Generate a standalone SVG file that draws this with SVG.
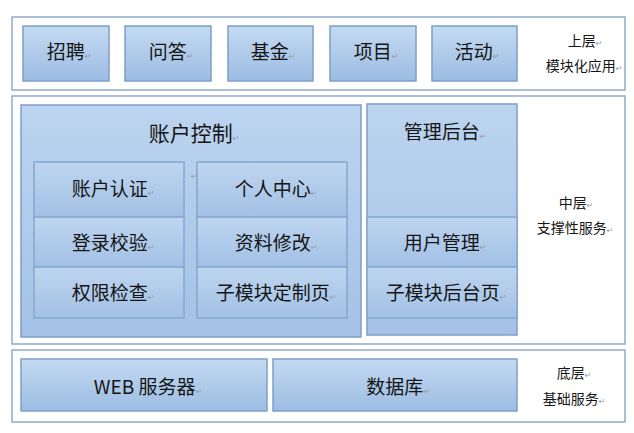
<svg xmlns="http://www.w3.org/2000/svg" width="634" height="433" viewBox="0 0 634 433">
<defs>
<linearGradient id="gb" x1="0" y1="0" x2="0" y2="1">
<stop offset="0" stop-color="#c4daf2"/>
<stop offset="1" stop-color="#9cbce2"/>
</linearGradient>
<linearGradient id="gp" x1="0" y1="0" x2="0" y2="1">
<stop offset="0" stop-color="#bcd4ef"/>
<stop offset="1" stop-color="#a4c2e6"/>
</linearGradient>
<linearGradient id="gs" x1="0" y1="0" x2="0" y2="1">
<stop offset="0" stop-color="#bed5ef"/>
<stop offset="1" stop-color="#a2c1e5"/>
</linearGradient>
</defs>
<style>
.layer{fill:#ffffff;stroke:#8eabcd;stroke-width:1.5}
.box{fill:url(#gb);stroke:#7f9fc8;stroke-width:1.5}
.panel{fill:url(#gp);stroke:#7f9fc8;stroke-width:1.5}
.sub{fill:url(#gs);stroke:#86a7cf;stroke-width:1.5}
.lbl{font-family:"Noto Sans CJK SC","Noto Sans",sans-serif;font-size:19px;fill:#151515;text-anchor:middle}
.side{font-family:"Noto Sans CJK SC","Noto Sans",sans-serif;font-size:14px;fill:#151515;text-anchor:middle}
.rm{font-family:"DejaVu Sans",sans-serif;font-size:8px;fill:#9a9a9a}
</style>
<rect width="634" height="433" fill="#ffffff"/>
<g id="layer-top">
<rect class="layer" x="12" y="17" width="613" height="73"/>
<text class="side" x="585" y="46">上层<tspan class="rm">↵</tspan></text>
<text class="side" x="584" y="71">模块化应用<tspan class="rm">↵</tspan></text>
</g>
<g id="n-zhaopin"><rect class="box" x="23" y="26" width="86" height="55"/><text class="lbl" x="69" y="59">招聘<tspan class="rm">↵</tspan></text></g>
<g id="n-wenda"><rect class="box" x="125" y="26" width="86" height="55"/><text class="lbl" x="171" y="59">问答<tspan class="rm">↵</tspan></text></g>
<g id="n-jijin"><rect class="box" x="228" y="26" width="85" height="55"/><text class="lbl" x="273" y="59">基金<tspan class="rm">↵</tspan></text></g>
<g id="n-xiangmu"><rect class="box" x="330" y="26" width="86" height="55"/><text class="lbl" x="376" y="59">项目<tspan class="rm">↵</tspan></text></g>
<g id="n-huodong"><rect class="box" x="432" y="26" width="85" height="55"/><text class="lbl" x="477" y="59">活动<tspan class="rm">↵</tspan></text></g>
<g id="layer-mid">
<rect class="layer" x="12" y="96" width="613" height="248"/>
<text class="side" x="576" y="208">中层<tspan class="rm">↵</tspan></text>
<text class="side" x="575" y="233">支撑性服务<tspan class="rm">↵</tspan></text>
</g>
<g id="n-account">
<rect class="panel" x="21" y="105" width="340" height="232"/>
<text class="lbl" x="194" y="141" style="font-size:21px">账户控制<tspan class="rm">↵</tspan></text>
<text class="rm" x="191" y="179">↵</text>
</g>
<g id="n-auth"><rect class="sub" x="34" y="162" width="150" height="55"/><text class="lbl" x="113" y="196">账户认证<tspan class="rm">↵</tspan></text></g>
<g id="n-login"><rect class="sub" x="34" y="217" width="150" height="50"/><text class="lbl" x="113" y="250">登录校验<tspan class="rm">↵</tspan></text></g>
<g id="n-perm"><rect class="sub" x="34" y="267" width="150" height="51"/><text class="lbl" x="113" y="300">权限检查<tspan class="rm">↵</tspan></text></g>
<g id="n-personal"><rect class="sub" x="197" y="162" width="150" height="55"/><text class="lbl" x="276" y="196">个人中心<tspan class="rm">↵</tspan></text></g>
<g id="n-profile"><rect class="sub" x="197" y="217" width="150" height="50"/><text class="lbl" x="276" y="250">资料修改<tspan class="rm">↵</tspan></text></g>
<g id="n-custom"><rect class="sub" x="197" y="267" width="150" height="51"/><text class="lbl" x="276" y="300">子模块定制页<tspan class="rm">↵</tspan></text></g>
<g id="n-admin">
<rect class="panel" x="367" y="104" width="150" height="231"/>
<text class="lbl" x="445" y="139">管理后台<tspan class="rm">↵</tspan></text>
</g>
<g id="n-usermgmt"><rect class="sub" x="367" y="217" width="150" height="50"/><text class="lbl" x="445" y="250">用户管理<tspan class="rm">↵</tspan></text></g>
<g id="n-subadmin"><rect class="sub" x="367" y="267" width="150" height="51"/><text class="lbl" x="446" y="300">子模块后台页<tspan class="rm">↵</tspan></text></g>
<g id="layer-bottom">
<rect class="layer" x="12" y="350" width="613" height="72"/>
<text class="side" x="574" y="378">底层<tspan class="rm">↵</tspan></text>
<text class="side" x="574" y="404">基础服务<tspan class="rm">↵</tspan></text>
</g>
<g id="n-web"><rect class="box" x="21" y="359" width="246" height="52"/><text class="lbl" x="148" y="394">WEB 服务器<tspan class="rm">↵</tspan></text></g>
<g id="n-db"><rect class="box" x="273" y="359" width="244" height="52"/><text class="lbl" x="398" y="394">数据库<tspan class="rm">↵</tspan></text></g>
<g id="connectors"/>
</svg>
